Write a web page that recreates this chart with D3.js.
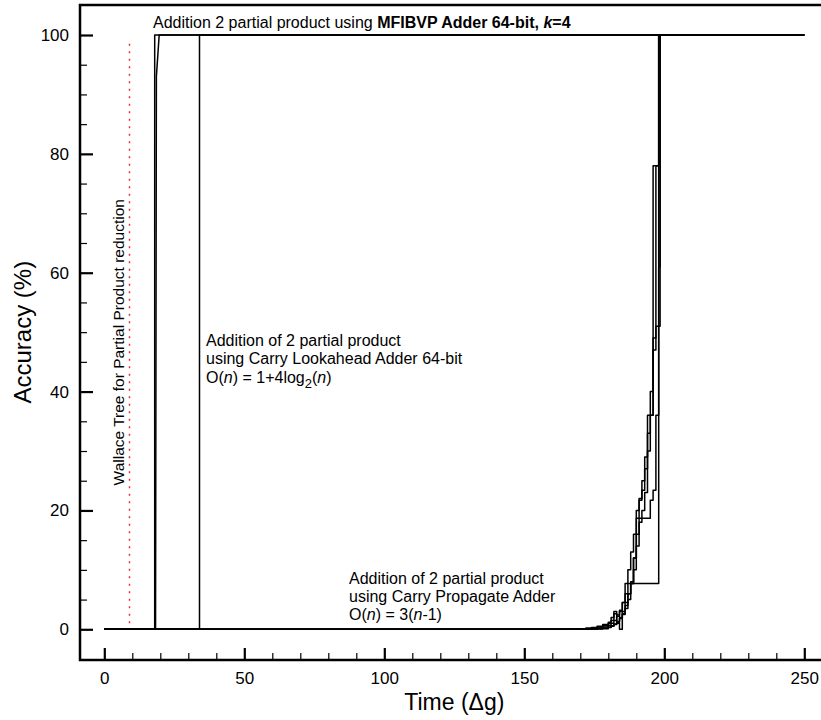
<!DOCTYPE html>
<html>
  <head>
    <meta charset="utf-8">
    <style>
      body { margin: 0; background: #fff; }
      svg { display: block; font-family: "Liberation Sans", Arial, sans-serif; }
    </style>
  </head>
  <body>
    <script src="https://d3js.org/d3.v7.min.js"></script>
    <script>
      // x ticks / y ticks
      const xMajor = [0, 50, 100, 150, 200, 250];
      const yMajor = [0, 20, 40, 60, 80, 100];

      // MFIBVP adder, k=4 (two runs)
      const mfTime = [0, 18, 18, 250];
      const mfAcc = [0, 0, 100, 100];
      const mfTime2 = [0, 18.3, 18.6, 19.6, 250];
      const mfAcc2 = [0, 0, 93, 100, 100];

      // carry lookahead adder
      const claTime = [0, 34, 34, 250];
      const claAcc = [0, 0, 100, 100];

      // carry propagate adder, several runs (step curves)
      const cpaTime = [0, 150, 165, 170, 172, 174, 176, 178, 180, 181,
                       182, 183, 184, 185, 186, 187, 188, 189, 190, 191,
                       192, 193, 194, 195, 196, 197, 198, 198.5, 250];
      const cpaRun1 = [0, 0, 0.05, 0.1, 0.2, 0.3, 0.5, 0.8, 1.2, 2.0,
                       3.0, 2.4, 3.2, 4.5, 7.7, 10, 13, 16, 20, 22,
                       25, 29, 36, 36, 78, 78, 100, 100, 100];
      const cpaRun2 = [0, 0, 0, 0.05, 0.1, 0.2, 0.4, 0.6, 1.0, 1.5,
                       2.6, 1.0, 0, 2.6, 4.0, 6.0, 7.7, 12, 18.7, 21.7,
                       23.4, 27, 33, 40, 49, 78, 100, 100, 100];
      const cpaRun3 = [0, 0, 0, 0, 0.05, 0.1, 0.2, 0.4, 0.7, 1.0,
                       1.5, 2.2, 3.0, 4.5, 6.0, 7.7, 7.7, 10, 14, 18,
                       20, 23, 30, 36, 47, 51, 61, 100, 100];
      const cpaRun4 = [0, 0, 0, 0, 0, 0.05, 0.1, 0.2, 0.4, 0.6,
                       0.9, 1.3, 1.8, 2.5, 3.5, 5.0, 7.7, 7.7, 7.7, 7.7,
                       7.7, 7.7, 7.7, 7.7, 7.7, 7.7, 100, 100, 100];
      const cpaRun5 = [0, 0, 0, 0, 0, 0, 0.05, 0.1, 0.3, 0.5,
                       0.8, 1.2, 2.0, 3.0, 4.5, 6.0, 8.0, 12, 16, 18.7,
                       18.7, 18.7, 18.7, 21.7, 23.4, 36, 51, 100, 100];

      // Wallace tree marker
      const wallaceTime = 9;
      const wallaceRange = [1, 99];

      function makeChart() {
        const width = 821;
        const height = 720;
        const frame = { left: 80, top: 5, bottom: 660, right: 840 };

        const svg = d3.select('body').append('svg')
          .attr('width', width)
          .attr('height', height);

        const xScale = d3.scaleLinear().domain([0, 250]).range([104.3, 804.3]);
        const yScale = d3.scaleLinear().domain([0, 100]).range([629.3, 35]);

        // frame: left, top, bottom
        svg.append('path')
          .attr('d', `M${frame.right},${frame.top}H${frame.left}V${frame.bottom}H${frame.right}`)
          .attr('fill', 'none')
          .attr('stroke', '#000')
          .attr('stroke-width', 2.5);

        // x axis
        const xAxis = d3.axisBottom(xScale)
          .tickValues(xMajor)
          .tickSizeInner(-12)
          .tickSizeOuter(0)
          .tickPadding(12);
        const xMinor = d3.axisBottom(xScale)
          .tickValues(d3.range(0, 251, 10).filter(d => d % 50 !== 0))
          .tickSizeInner(-7)
          .tickSizeOuter(0)
          .tickFormat('');

        const gx = svg.append('g')
          .attr('transform', `translate(0,${frame.bottom})`)
          .call(xAxis);
        svg.append('g')
          .attr('transform', `translate(0,${frame.bottom})`)
          .call(xMinor)
          .call(g => g.selectAll('line').attr('stroke-width', 1.2));
        gx.selectAll('line').attr('stroke-width', 2.2);
        gx.selectAll('text').attr('font-size', 17).attr('fill', '#000');

        // y axis
        const yAxis = d3.axisLeft(yScale)
          .tickValues(yMajor)
          .tickSizeInner(-13)
          .tickSizeOuter(0)
          .tickPadding(11);
        const yMinor = d3.axisLeft(yScale)
          .tickValues(d3.range(0, 101, 5).filter(d => d % 20 !== 0))
          .tickSizeInner(-7)
          .tickSizeOuter(0)
          .tickFormat('');

        const gy = svg.append('g')
          .attr('transform', `translate(${frame.left},0)`)
          .call(yAxis);
        svg.append('g')
          .attr('transform', `translate(${frame.left},0)`)
          .call(yMinor)
          .call(g => g.selectAll('line').attr('stroke-width', 1.2));
        gy.selectAll('line').attr('stroke-width', 2.2);
        gy.selectAll('text').attr('font-size', 17).attr('fill', '#000');
        svg.selectAll('.domain').remove();

        // axis titles
        svg.append('text')
          .attr('x', xScale(125))
          .attr('y', 710)
          .attr('text-anchor', 'middle')
          .attr('font-size', 23)
          .text('Time (Δg)');
        svg.append('text')
          .attr('transform', `translate(31,${yScale(50)}) rotate(-90)`)
          .attr('text-anchor', 'middle')
          .attr('font-size', 24)
          .text('Accuracy (%)');

        // wallace dotted line
        svg.append('line')
          .attr('x1', xScale(wallaceTime))
          .attr('x2', xScale(wallaceTime))
          .attr('y1', yScale(wallaceRange[0]))
          .attr('y2', yScale(wallaceRange[1]))
          .attr('stroke', '#e8322f')
          .attr('stroke-width', 1.5)
          .attr('stroke-dasharray', '2,5.5');

        const line = d3.line()
          .x(d => xScale(d[0]))
          .y(d => yScale(d[1]));
        const stepLine = d3.line()
          .x(d => xScale(d[0]))
          .y(d => yScale(d[1]))
          .curve(d3.curveStepAfter);

        const plots = svg.append('g')
          .attr('fill', 'none')
          .attr('stroke', '#000')
          .attr('stroke-width', 1.5)
          .attr('stroke-linejoin', 'round');

        const cpaRuns = [cpaRun1, cpaRun2, cpaRun3, cpaRun4, cpaRun5];
        plots.selectAll('.cpa')
          .data(cpaRuns)
          .join('path')
          .attr('class', 'cpa')
          .attr('d', run => stepLine(d3.zip(cpaTime, run)));

        plots.append('path').attr('d', line(d3.zip(claTime, claAcc)));
        plots.append('path').attr('d', line(d3.zip(mfTime, mfAcc)));
        plots.append('path').attr('d', line(d3.zip(mfTime2, mfAcc2)));

        // annotations
        const top = svg.append('text')
          .attr('x', 153)
          .attr('y', 28)
          .attr('font-size', 16);
        top.append('tspan').text('Addition 2 partial product using ');
        top.append('tspan').attr('font-weight', 'bold').text('MFIBVP Adder 64-bit, ');
        top.append('tspan').attr('font-weight', 'bold').attr('font-style', 'italic').text('k');
        top.append('tspan').attr('font-weight', 'bold').text('=4');

        const cla = svg.append('text').attr('font-size', 16);
        cla.append('tspan').attr('x', 206).attr('y', 346).text('Addition of 2 partial product');
        cla.append('tspan').attr('x', 206).attr('y', 364).text('using Carry Lookahead Adder 64-bit');
        const claO = cla.append('tspan').attr('x', 206).attr('y', 383);
        claO.append('tspan').text('O(');
        claO.append('tspan').attr('font-style', 'italic').text('n');
        claO.append('tspan').text(') = 1+4log');
        claO.append('tspan').attr('dy', 5).attr('font-size', 13).text('2');
        claO.append('tspan').attr('dy', -5).text('(');
        claO.append('tspan').attr('font-style', 'italic').text('n');
        claO.append('tspan').text(')');

        const cpa = svg.append('text').attr('font-size', 16);
        cpa.append('tspan').attr('x', 349).attr('y', 584).text('Addition of 2 partial product');
        cpa.append('tspan').attr('x', 349).attr('y', 602).text('using Carry Propagate Adder');
        const cpaO = cpa.append('tspan').attr('x', 349).attr('y', 620);
        cpaO.append('tspan').text('O(');
        cpaO.append('tspan').attr('font-style', 'italic').text('n');
        cpaO.append('tspan').text(') = 3(');
        cpaO.append('tspan').attr('font-style', 'italic').text('n');
        cpaO.append('tspan').text('-1)');

        svg.append('text')
          .attr('transform', `translate(124,${yScale(48.3)}) rotate(-90)`)
          .attr('text-anchor', 'middle')
          .attr('font-size', 15.5)
          .text('Wallace Tree for Partial Product reduction');
      }

      makeChart();
    </script>
  </body>
</html>
